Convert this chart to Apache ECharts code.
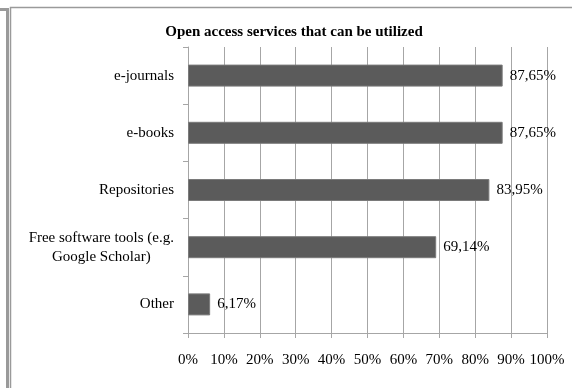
<!DOCTYPE html>
<html>
<head>
<meta charset="utf-8">
<script src="https://cdn.jsdelivr.net/npm/echarts@6/dist/echarts.min.js"></script>
<style>
  html, body { margin: 0; padding: 0; background: #fff; }
  #chart { width: 572px; height: 388px; }
</style>
</head>
<body>
<div id="chart"></div>
<script>
// Survey answers: share of respondents per open access service
const categories = [
  'e-journals',
  'e-books',
  'Repositories',
  'Free software tools (e.g.\nGoogle Scholar)',
  'Other'
];
const shares = [87.65, 87.65, 83.95, 69.14, 6.17];
const tickValues = [0, 10, 20, 30, 40, 50, 60, 70, 80, 90, 100];

const serif = "'Liberation Serif', 'Times New Roman', serif";
const gridGrey = '#a6a6a6';

const chart = echarts.init(document.getElementById('chart'));

chart.setOption({
  animation: false,
  backgroundColor: '#ffffff',
  title: {
    text: 'Open access services that can be utilized',
    left: 289,
    textAlign: 'center',
    top: 20,
    textStyle: { fontFamily: serif, fontSize: 15, fontWeight: 'bold', color: '#000' }
  },
  grid: { left: 188, right: 25, top: 47, bottom: 55, containLabel: false },
  xAxis: {
    type: 'value',
    min: tickValues[0],
    max: tickValues[tickValues.length - 1],
    interval: 10,
    axisLine: { show: true, lineStyle: { color: gridGrey, width: 1 } },
    axisTick: { show: true, length: 5, lineStyle: { color: gridGrey } },
    splitLine: { show: true, lineStyle: { color: gridGrey, width: 1 } },
    axisLabel: {
      margin: 20,
      fontFamily: serif,
      fontSize: 15,
      color: '#000',
      formatter: v => v + '%'
    }
  },
  yAxis: {
    type: 'category',
    inverse: true,
    data: categories,
    axisLine: { show: true, lineStyle: { color: gridGrey, width: 1 } },
    axisTick: { show: true, length: 5, lineStyle: { color: gridGrey } },
    axisLabel: {
      margin: 14,
      fontFamily: serif,
      fontSize: 15,
      color: '#000',
      lineHeight: 19,
      formatter: v => v.split('\n').map(s => '{c|' + s + '}').join('\n'),
      rich: {
        c: { align: 'center', fontFamily: serif, fontSize: 15, color: '#000', lineHeight: 19 }
      }
    }
  },
  series: [{
    type: 'bar',
    data: shares,
    barWidth: 22,
    itemStyle: { color: '#5b5b5b', borderColor: '#7a7a7a', borderWidth: 1 },
    label: {
      show: true,
      position: 'right',
      distance: 7,
      fontFamily: serif,
      fontSize: 15,
      color: '#000',
      formatter: p => p.value.toFixed(2).replace('.', ',') + '%'
    }
  }],
  graphic: [
    // outer page frame lines
    { type: 'polyline', silent: true, shape: { points: [[0, 9.5], [7.5, 9.5], [7.5, 388]] },
      style: { stroke: '#9a9a9a', lineWidth: 3, fill: null } },
    { type: 'polyline', silent: true, shape: { points: [[10.5, 388], [10.5, 7.5], [572, 7.5]] },
      style: { stroke: '#9a9a9a', lineWidth: 1.5, fill: null } }
  ]
});
</script>
</body>
</html>
